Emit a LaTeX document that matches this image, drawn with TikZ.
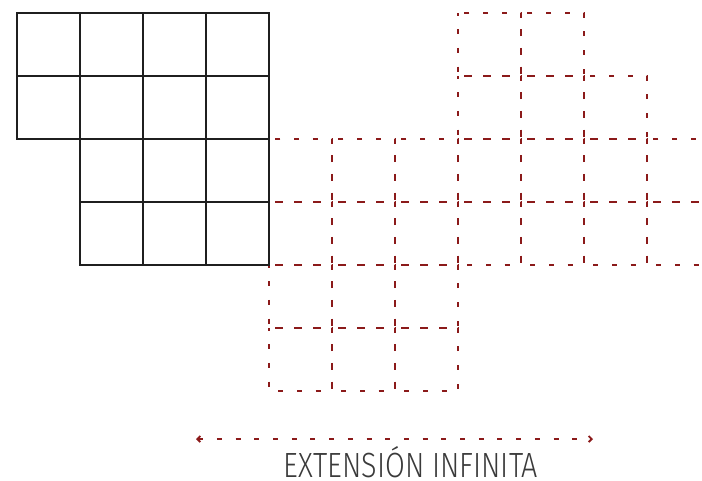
\documentclass[tikz,border=0pt]{standalone}
\usepackage{fontspec}
\setmainfont{Liberation Sans}
\newfontfamily\lightfont{Fira Sans Light}
\usetikzlibrary{arrows.meta}
\definecolor{dred}{HTML}{8B1A1A}
\definecolor{tgray}{HTML}{3A3A3A}
\begin{document}
\begin{tikzpicture}[x=1pt,y=-1pt,
  solidcell/.style={draw=black!88,line width=2.5pt},
  redcell/.style={draw=dred,line width=1.9pt,dash pattern=on 5pt off 13.7pt,dash phase=2.5pt},
  extarrow/.style={draw=dred,line width=1.9pt,dash pattern=on 5pt off 13.7pt,{Straight Barb[length=3pt,width=6pt]}-{Straight Barb[length=3pt,width=6pt]}}]
\useasboundingbox (0,0) rectangle (702,480);
\begin{scope}
\clip (0,0) rectangle (702,480);
% red dashed cells
\foreach \c/\r in {3/0,4/0, 3/1,4/1,5/1,
  0/2,1/2,2/2,3/2,4/2,5/2,6/2,
  0/3,1/3,2/3,3/3,4/3,5/3,6/3,
  0/4,1/4,2/4, 0/5,1/5,2/5}{
  \path[redcell] ({269+63*\c},{13+63*\r}) rectangle ++(63,63);
}
\end{scope}
% black grid
\foreach \c/\r in {0/0,1/0,2/0,3/0,0/1,1/1,2/1,3/1,1/2,2/2,3/2,1/3,2/3,3/3}{
  \path[solidcell] ({17+63*\c},{13+63*\r}) rectangle ++(63,63);
}
\coordinate (aL) at (196,439);
\coordinate (aR) at (593,439);
\draw[extarrow] (aL) -- (aR);
\node[text=tgray,inner sep=0pt,anchor=base] (lbl) at (411,477) {\scalebox{1}[1.22]{\resizebox{254pt}{!}{\fontsize{28}{30}\lightfont EXTENSIÓN INFINITA}}};
\end{tikzpicture}
\end{document}
